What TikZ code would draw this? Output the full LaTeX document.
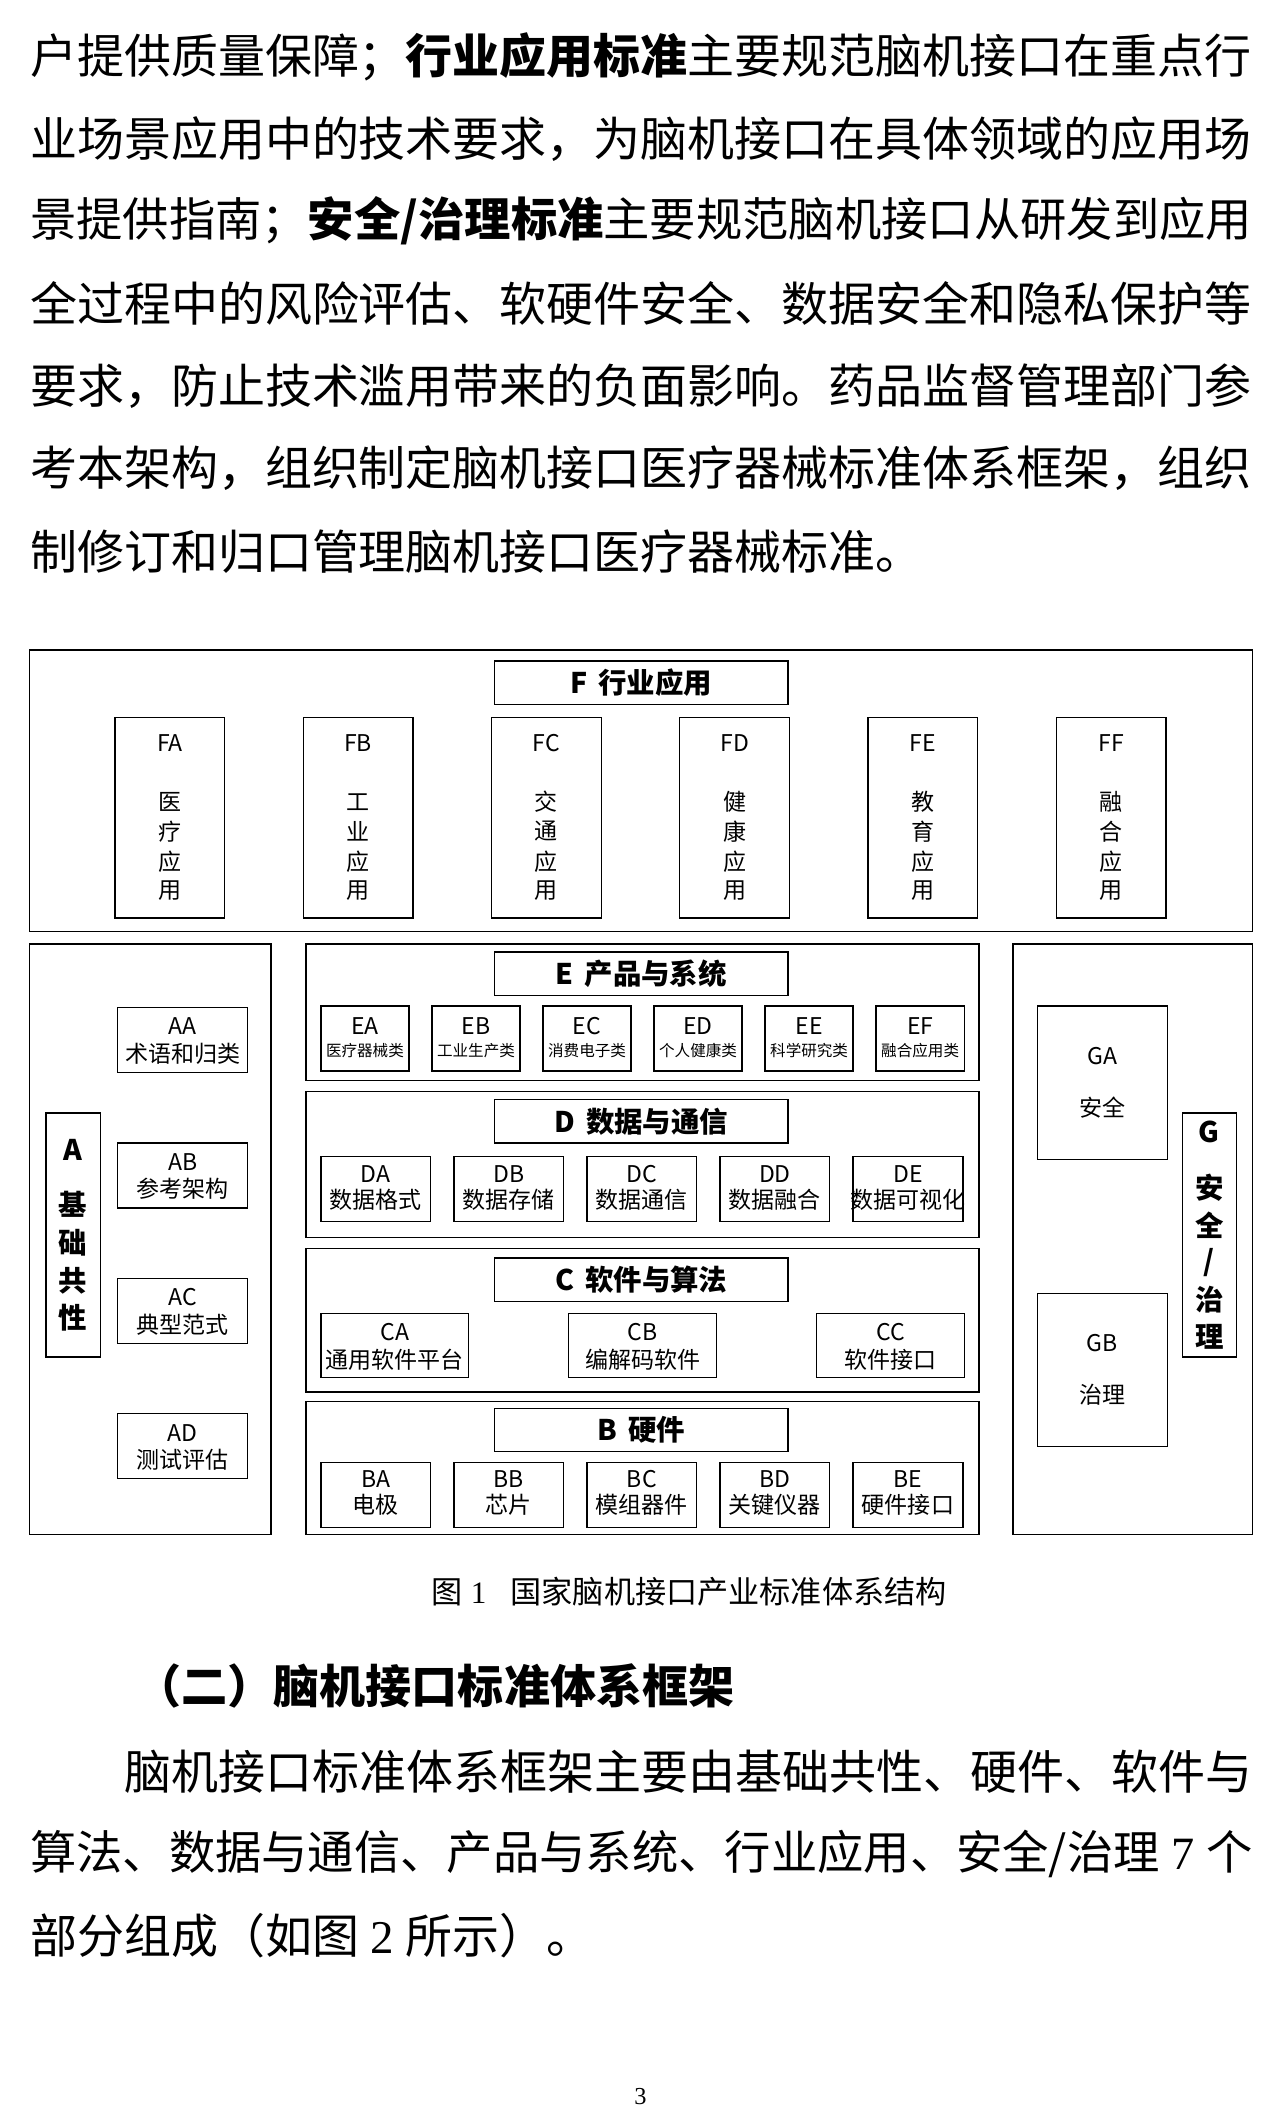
\documentclass[tikz,border=0pt]{standalone}
\usepackage{fontspec}
\setmainfont{Noto Sans CJK SC}
\newfontfamily\serif{Liberation Serif}
\begin{document}
\begin{tikzpicture}[x=1pt,y=-1pt,
  bx/.style={draw,line width=1pt,inner sep=0},
  t/.style={font=\fontsize{17}{19}\selectfont,align=center,inner sep=0},
  tt/.style={font=\fontsize{21}{23}\selectfont\bfseries,inner sep=0},
  s/.style={font=\fontsize{11.5}{13}\selectfont,inner sep=0},
  body/.style={anchor=west,inner sep=0,font=\fontsize{34.7}{36}\selectfont},
  bodys/.style={anchor=west,inner sep=0,font=\fontsize{34.2}{36}\selectfont}]
\useasboundingbox (0,0) rectangle (945,1567);
% body text
\node[body] (l1) at (22,42) {户提供质量保障；\textbf{行业应用标准}主要规范脑机接口在重点行};
\node[body] (l2) at (22,103) {业场景应用中的技术要求，为脑机接口在具体领域的应用场};
\node[bodys] (l3) at (22,163) {景提供指南；\textbf{安全/治理标准}主要规范脑机接口从研发到应用};
\node[body] (l4) at (22,224) {全过程中的风险评估、软硬件安全、数据安全和隐私保护等};
\node[body] (l5) at (22,285) {要求，防止技术滥用带来的负面影响。药品监督管理部门参};
\node[body] (l6) at (22,346) {考本架构，组织制定脑机接口医疗器械标准体系框架，组织};
\node[body] (l7) at (22,407) {制修订和归口管理脑机接口医疗器械标准。};
% F
\draw[bx] (22,480) rectangle (925,688);
\draw[bx] (365,488) rectangle (582,520); \node[tt] (Ft) at (473.5,504) {F\, 行业应用};
\foreach \n/\a/\b/\c/\d [count=\i from 0] in {FA/医/疗/应/用,FB/工/业/应/用,FC/交/通/应/用,FD/健/康/应/用,FE/教/育/应/用,FF/融/合/应/用}{
  \pgfmathsetmacro\xx{85+139*\i}
  \draw[bx] (\xx,530) rectangle ++(81,148);
  \node[t] (\n) at (\xx+40.5,549) {\n};
  \node[t] (\n1) at (\xx+40.5,592) {\a};
  \node[t] (\n2) at (\xx+40.5,614) {\b};
  \node[t] (\n3) at (\xx+40.5,636) {\c};
  \node[t] (\n4) at (\xx+40.5,658) {\d};
}
% A
\draw[bx] (22,697) rectangle (200,1133);
\draw[bx] (34,822) rectangle (74,1002);
\node[tt] (Aa) at (54,849) {A};
\node[tt] (A1) at (54,889) {基};
\node[tt] (A2) at (54,918) {础};
\node[tt] (A3) at (54,946) {共};
\node[tt] (A4) at (54,973) {性};
\foreach \n/\l [count=\i from 0] in {AA/术语和归类,AB/参考架构,AC/典型范式,AD/测试评估}{
  \pgfmathsetmacro\yy{744+100*\i}
  \draw[bx] (87,\yy) rectangle ++(96,48);
  \node[t] (\n) at (135,\yy+14) {\n};
  \node[t] (\n l) at (135,\yy+34) {\l};
}
% E
\draw[bx] (226,697) rectangle (723,798);
\draw[bx] (365,703) rectangle (582,735); \node[tt] (Et) at (473.5,719) {E\, 产品与系统};
\foreach \n/\l [count=\i from 0] in {EA/医疗器械类,EB/工业生产类,EC/消费电子类,ED/个人健康类,EE/科学研究类,EF/融合应用类}{
  \pgfmathsetmacro\xx{237+82*\i}
  \draw[bx] (\xx,743) rectangle ++(65,48);
  \node[t] (\n) at (\xx+32.5,758) {\n};
  \node[s] (\n l) at (\xx+32.5,776) {\l};
}
% D
\draw[bx] (226,806) rectangle (723,914);
\draw[bx] (365,812) rectangle (582,844); \node[tt] (Dt) at (473.5,828) {D\, 数据与通信};
\foreach \n/\l [count=\i from 0] in {DA/数据格式,DB/数据存储,DC/数据通信,DD/数据融合,DE/数据可视化}{
  \pgfmathsetmacro\xx{237+98.25*\i}
  \draw[bx] (\xx,854) rectangle ++(81,48);
  \node[t] (\n) at (\xx+40.5,867) {\n};
  \node[t] (\n l) at (\xx+40.5,886) {\l};
}
% C
\draw[bx] (226,922) rectangle (723,1028);
\draw[bx] (365,929) rectangle (582,961); \node[tt] (Ct) at (473.5,945) {C\, 软件与算法};
\foreach \n/\l [count=\i from 0] in {CA/通用软件平台,CB/编解码软件,CC/软件接口}{
  \pgfmathsetmacro\xx{237+183*\i}
  \draw[bx] (\xx,970) rectangle ++(109,47);
  \node[t] (\n) at (\xx+54.5,984) {\n};
  \node[t] (\n l) at (\xx+54.5,1004) {\l};
}
% B
\draw[bx] (226,1035) rectangle (723,1133);
\draw[bx] (365,1040) rectangle (582,1072); \node[tt] (Bt) at (473.5,1056) {B\, 硬件};
\foreach \n/\l [count=\i from 0] in {BA/电极,BB/芯片,BC/模组器件,BD/关键仪器,BE/硬件接口}{
  \pgfmathsetmacro\xx{237+98.25*\i}
  \draw[bx] (\xx,1080) rectangle ++(81,48);
  \node[t] (\n) at (\xx+40.5,1092) {\n};
  \node[t] (\n l) at (\xx+40.5,1111) {\l};
}
% G
\draw[bx] (748,697) rectangle (925,1133);
\draw[bx] (766,743) rectangle (862,856);
\node[t] (GA) at (814,780) {GA}; \node[t] (GAl) at (814,818) {安全};
\draw[bx] (766,955) rectangle (862,1068);
\node[t] (GB) at (814,992) {GB}; \node[t] (GBl) at (814,1030) {治理};
\draw[bx] (873,822) rectangle (913,1002);
\node[tt] (Ga) at (893,836) {G};
\node[tt] (G1) at (893,877) {安};
\node[tt] (G2) at (893,905) {全};
\node[tt] (G3) at (893,932) {/};
\node[tt] (G4) at (893,960) {治};
\node[tt] (G5) at (893,987) {理};
% caption
\node[inner sep=0,font=\fontsize{23}{25}\selectfont] (cap) at (509,1175) {图{\serif\ 1}\;\; 国家脑机接口产业标准体系结构};
\node[anchor=west,inner sep=0,font=\fontsize{34}{36}\selectfont\bfseries] (h) at (100,1245) {（二）脑机接口标准体系框架};
\node[body] (p1) at (92,1308) {脑机接口标准体系框架主要由基础共性、硬件、软件与};
\node[bodys] (p2) at (22,1369) {算法、数据与通信、产品与系统、行业应用、安全/治理{\serif\ 7 }个};
\node[body] (p3) at (22,1429) {部分组成（如图{\serif\ 2 }所示）。};
\node[inner sep=0,font=\serif\fontsize{18}{20}\selectfont] (pg) at (473,1548) {3};
\end{tikzpicture}
\end{document}
